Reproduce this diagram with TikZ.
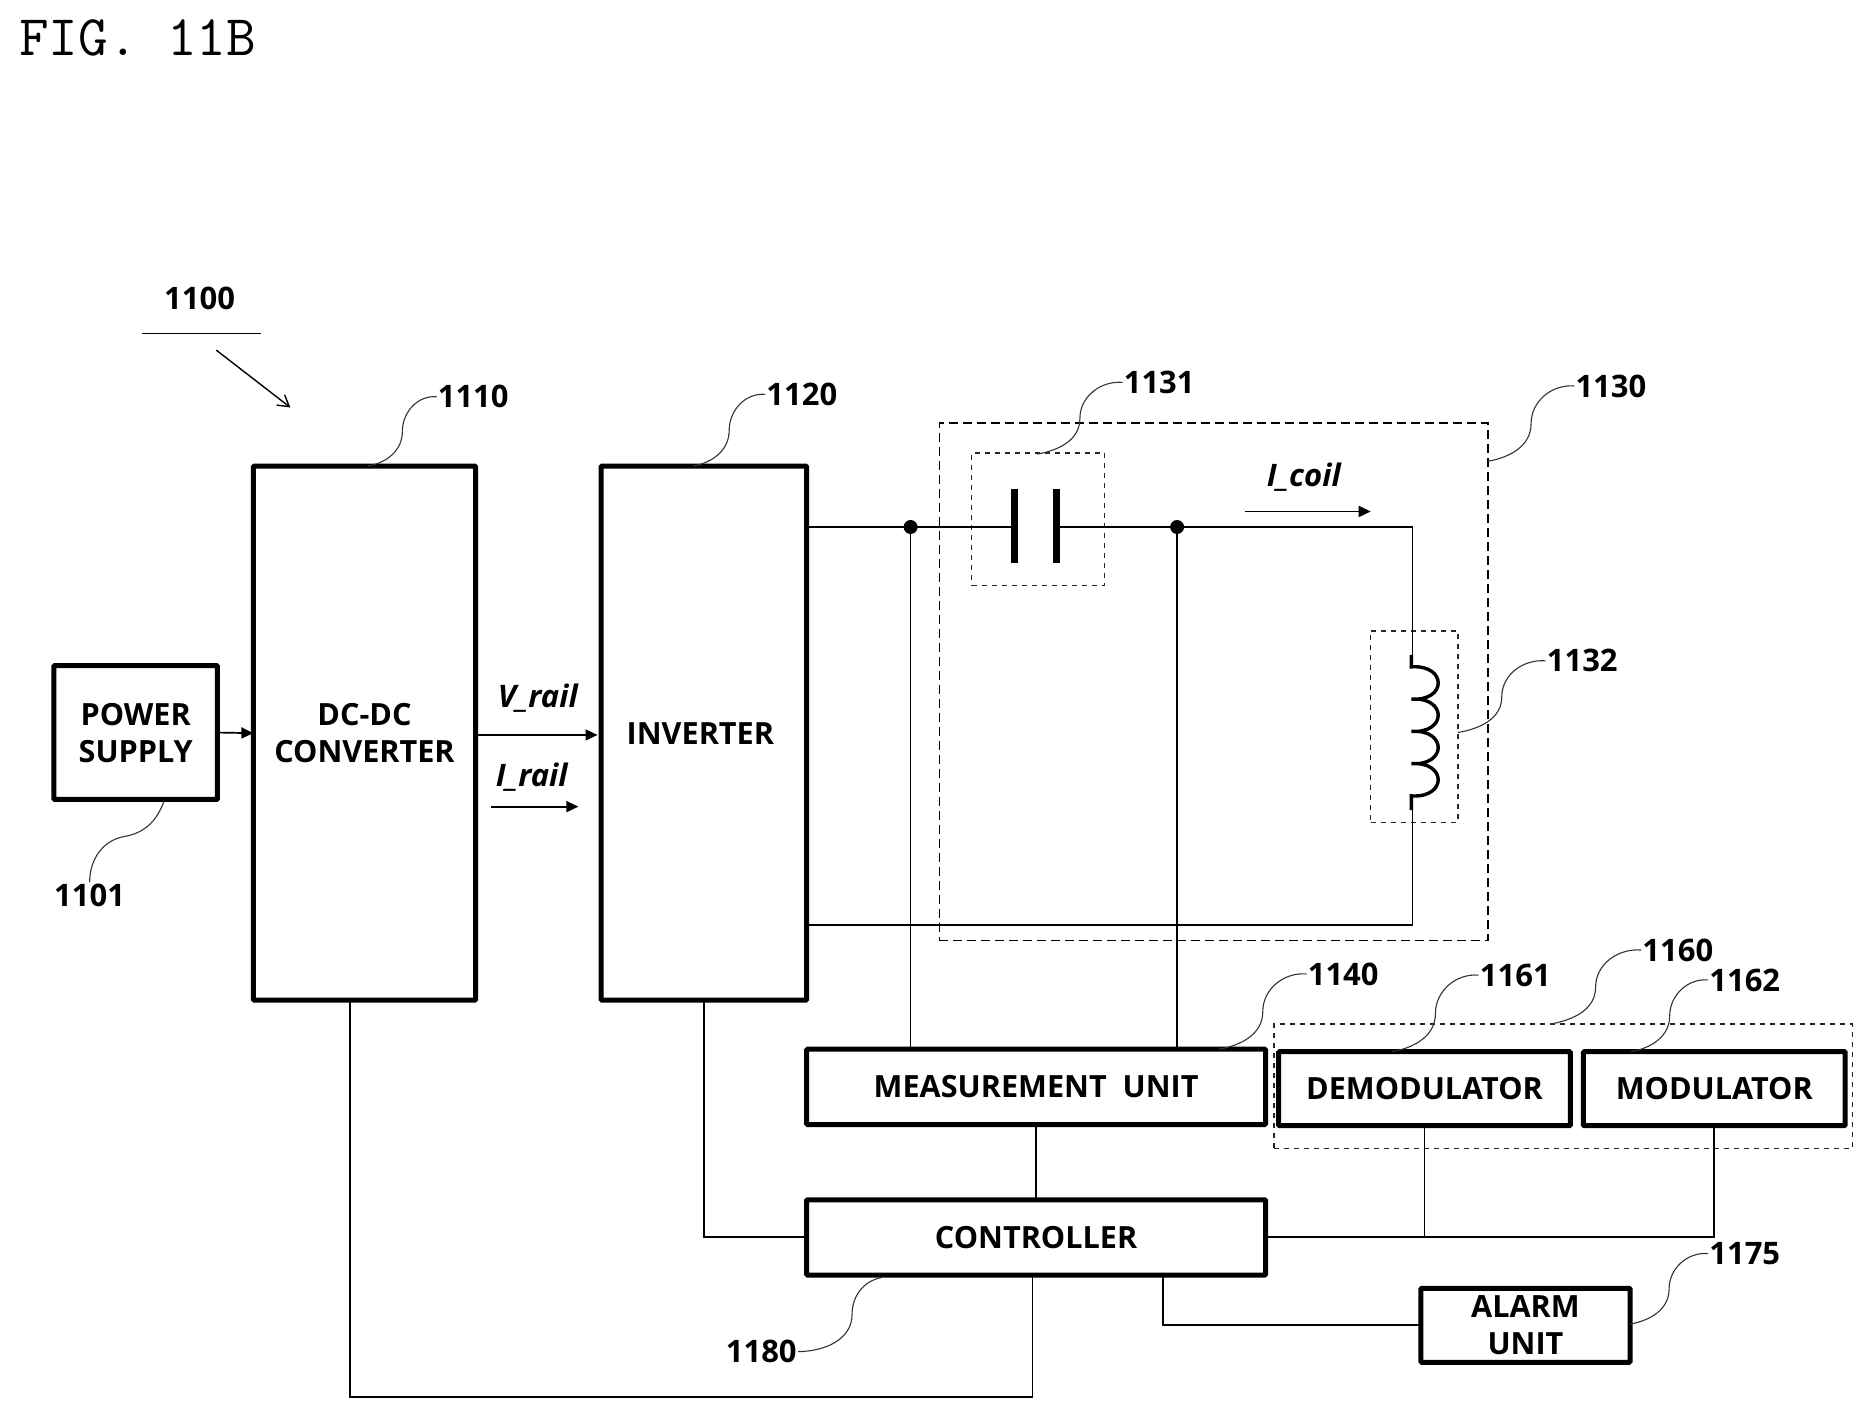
\documentclass[tikz,border=0pt]{standalone}
\usepackage{fontspec}
\setmainfont{Open Sans}
\usetikzlibrary{arrows.meta,calc}
\tikzset{
  blockst/.style={draw=black,line width=5pt,fill=white,outer sep=0pt,inner sep=0pt,align=center,rounded corners=1pt,font=\fontsize{30.6}{37}\selectfont\bfseries},
  refnum/.style={inner sep=1pt,font=\fontsize{31}{36}\selectfont\bfseries},
  sigmark/.style={inner sep=0pt,font=\fontsize{31}{34}\selectfont\itshape\bfseries},
  wire/.style={draw=black,line width=1.7pt},
  wirethick/.style={draw=black,line width=2.4pt},
  leader/.style={draw=black!80,line width=1.1pt},
  dashbig/.style={draw=black,line width=1.5pt,dash pattern=on 9pt off 5pt},
  dashsmall/.style={draw=black!85,line width=1.3pt,dash pattern=on 5pt off 5pt},
  sigarrow/.style={draw=black,line width=1.7pt,-{Triangle[length=12pt,width=11pt]}},
  dotst/.style={circle,fill=black,inner sep=0pt,minimum size=14pt},
  plate/.style={draw=black,line width=7pt},
  coilst/.style={draw=black,line width=3.4pt},
}
\newcommand\blockbox[6]{\node[blockst,minimum width={(#4-#2)*1.195pt},minimum height={(#5-#3)*1.195pt}] (#1) at ({(#2+#4)/2},{(#3+#5)/2}) {#6};}
\newcommand\dashregion[6]{\node[#6,minimum width={(#4-#2)*1.195pt},minimum height={(#5-#3)*1.195pt},inner sep=0pt,outer sep=0pt] (#1) at ({(#2+#4)/2},{(#3+#5)/2}) {};}
\newcommand\sleader[2]{\draw[leader] (#1) to[out=10,in=-90] ($(#1)!.5!(#2.west)$) to[out=90,in=175] (#2.west);}
\begin{document}
\begin{tikzpicture}[x=1.195pt,y=-1.195pt]
\useasboundingbox (0,0) rectangle (1569,1189.1);
\fill[white] (0,0) rectangle (1569,1189.1);
\node[inner sep=0pt,anchor=west,font=\ttfamily\fontsize{57.5}{58}\selectfont] (fig) at (16,32) {FIG. 11B};

% dashed regions
\dashregion{r1130}{786}{354}{1245}{787}{dashbig,draw}
\dashregion{r1131}{813}{379}{924}{490}{dashsmall,draw}
\dashregion{r1132}{1147}{528}{1220}{688}{dashsmall,draw}
\dashregion{r1160}{1066}{857}{1550}{961}{dashsmall,draw}

% wires' anchor coordinates
\coordinate (jA) at (762,441);
\coordinate (jB) at (985,441);
\coordinate (cTop) at (1182,441);
\coordinate (cIn) at (1182,548);
\coordinate (cOut) at (1182,678);
\coordinate (cBot) at (1182,774);
\coordinate (invT) at (675,441);
\coordinate (invB) at (675,774);
\coordinate (plA) at (849,441);
\coordinate (plB) at (884,441);
\coordinate (dcX) at (293,837);
\coordinate (ctlX) at (864,1067);
\coordinate (invX) at (589,837);
\coordinate (ctlL) at (675,1035);
\coordinate (ctlR) at (1059,1035);
\coordinate (demX) at (1192,942);
\coordinate (modX) at (1434,942);
\coordinate (ctlAl) at (973,1067);

% wires
\draw[wirethick] (invT) -- (plA) (plB) -- (cTop);
\draw[wire] (cTop) -- (cIn);
\draw[wire] (cOut) -- (cBot) -- (invB);
\draw[wire] (jA) -- (762,878);
\draw[wire] (jB) -- (985,878);
\draw[wire] (dcX) -- (293,1169) -- (864,1169) -- (ctlX);
\draw[wire] (invX) -- (589,1035) -- (ctlL);
\draw[wire] (867,941) -- (867,1004);
\draw[wire] (ctlR) -- (1434,1035) -- (modX);
\draw[wire] (1192,1035) -- (demX);
\draw[wire] (ctlAl) -- (973,1109) -- (1189,1109);

% capacitor
\draw[plate] (849,409) -- (849,471);
\draw[plate] (884,409) -- (884,471);
\node[dotst] (dA) at (jA) {};
\node[dotst] (dB) at (jB) {};

% coil
\draw[coilst] (1181,548) -- (1181,558)
  .. controls (1211,556) and (1211,587) .. (1181,585)
  .. controls (1211,583) and (1211,614) .. (1181,612)
  .. controls (1211,610) and (1211,641) .. (1181,639)
  .. controls (1211,637) and (1211,668) .. (1181,666) -- (1181,678);

% blocks
\blockbox{ps}{45}{557}{182}{669}{POWER\\SUPPLY}
\blockbox{dc}{212}{390}{398}{837}{DC-DC\\CONVERTER}
\blockbox{inv}{503}{390}{675}{837}{INVERTER\kern 7pt}
\blockbox{meas}{675}{878}{1059}{941}{MEASUREMENT\ \ UNIT}
\blockbox{ctl}{675}{1004}{1059}{1067}{CONTROLLER}
\blockbox{dem}{1070}{880}{1314}{942}{DEMODULATOR}
\blockbox{mod}{1325}{880}{1544}{942}{MODULATOR}
\blockbox{alarm}{1189}{1078}{1364}{1140}{ALARM\\UNIT}

% signal arrows
\coordinate (iRa) at (411,675);
\coordinate (iRb) at (484,675);
\coordinate (iCa) at (1042,428);
\coordinate (iCb) at (1147,428);
\draw[sigarrow] (ps.east) -- (dc.west);
\draw[sigarrow] (398,615) -- (500,615);
\draw[sigarrow] (iRa) -- (iRb);
\draw[sigarrow] (iCa) -- (iCb);
\node[sigmark] (vrail) at (450,584) {V\_rail};
\node[sigmark] (irail) at (445,650) {I\_rail};
\node[sigmark] (icoil) at (1091,399) {I\_coil};

% reference numbers
\node[refnum] (n1100) at (167,250) {1100};
\node[refnum] (n1110) at (396,332) {1110};
\node[refnum] (n1120) at (671,330) {1120};
\node[refnum] (n1131) at (970,320) {1131};
\node[refnum] (n1130) at (1348,323) {1130};
\node[refnum] (n1132) at (1324,553) {1132};
\node[refnum] (n1101) at (75,749) {1101};
\node[refnum] (n1140) at (1124,815) {1140};
\node[refnum] (n1161) at (1268,816) {1161};
\node[refnum] (n1160) at (1404,795) {1160};
\node[refnum] (n1162) at (1460,820) {1162};
\node[refnum] (n1175) at (1460,1049) {1175};
\node[refnum] (n1180) at (637,1131) {1180};

% 1100 underline and arrow
\coordinate (ulA) at (119,279);
\coordinate (ulB) at (218,279);
\coordinate (arA) at (181,293);
\coordinate (arB) at (243,341);
\draw[wire] (ulA) -- (ulB);
\draw[draw=black,line width=1.4pt,-{Straight Barb[length=11pt,width=13pt]}] (arA) -- (arB);

% leaders
\coordinate (s1110) at (308,390);
\coordinate (s1120) at (580,390);
\coordinate (s1131) at (868,380);
\coordinate (s1130) at (1245,386);
\coordinate (s1132) at (1220,613);
\coordinate (s1140) at (1020,878);
\coordinate (s1161) at (1165,880);
\coordinate (s1160) at (1297,857);
\coordinate (s1162) at (1365,880);
\coordinate (s1175) at (1364,1108);
\coordinate (s1101) at (137,671);
\coordinate (s1180) at (738,1069);
\sleader{s1110}{n1110}
\sleader{s1120}{n1120}
\sleader{s1131}{n1131}
\sleader{s1130}{n1130}
\sleader{s1132}{n1132}
\sleader{s1140}{n1140}
\sleader{s1161}{n1161}
\sleader{s1160}{n1160}
\sleader{s1162}{n1162}
\sleader{s1175}{n1175}
\draw[leader] (s1101) to[out=-110,in=10] (104,700) to[out=190,in=90] (n1101.north);
\draw[leader] (s1180) to[out=190,in=90] (713,1100) to[out=-90,in=0] (n1180.east);
\end{tikzpicture}
\end{document}
